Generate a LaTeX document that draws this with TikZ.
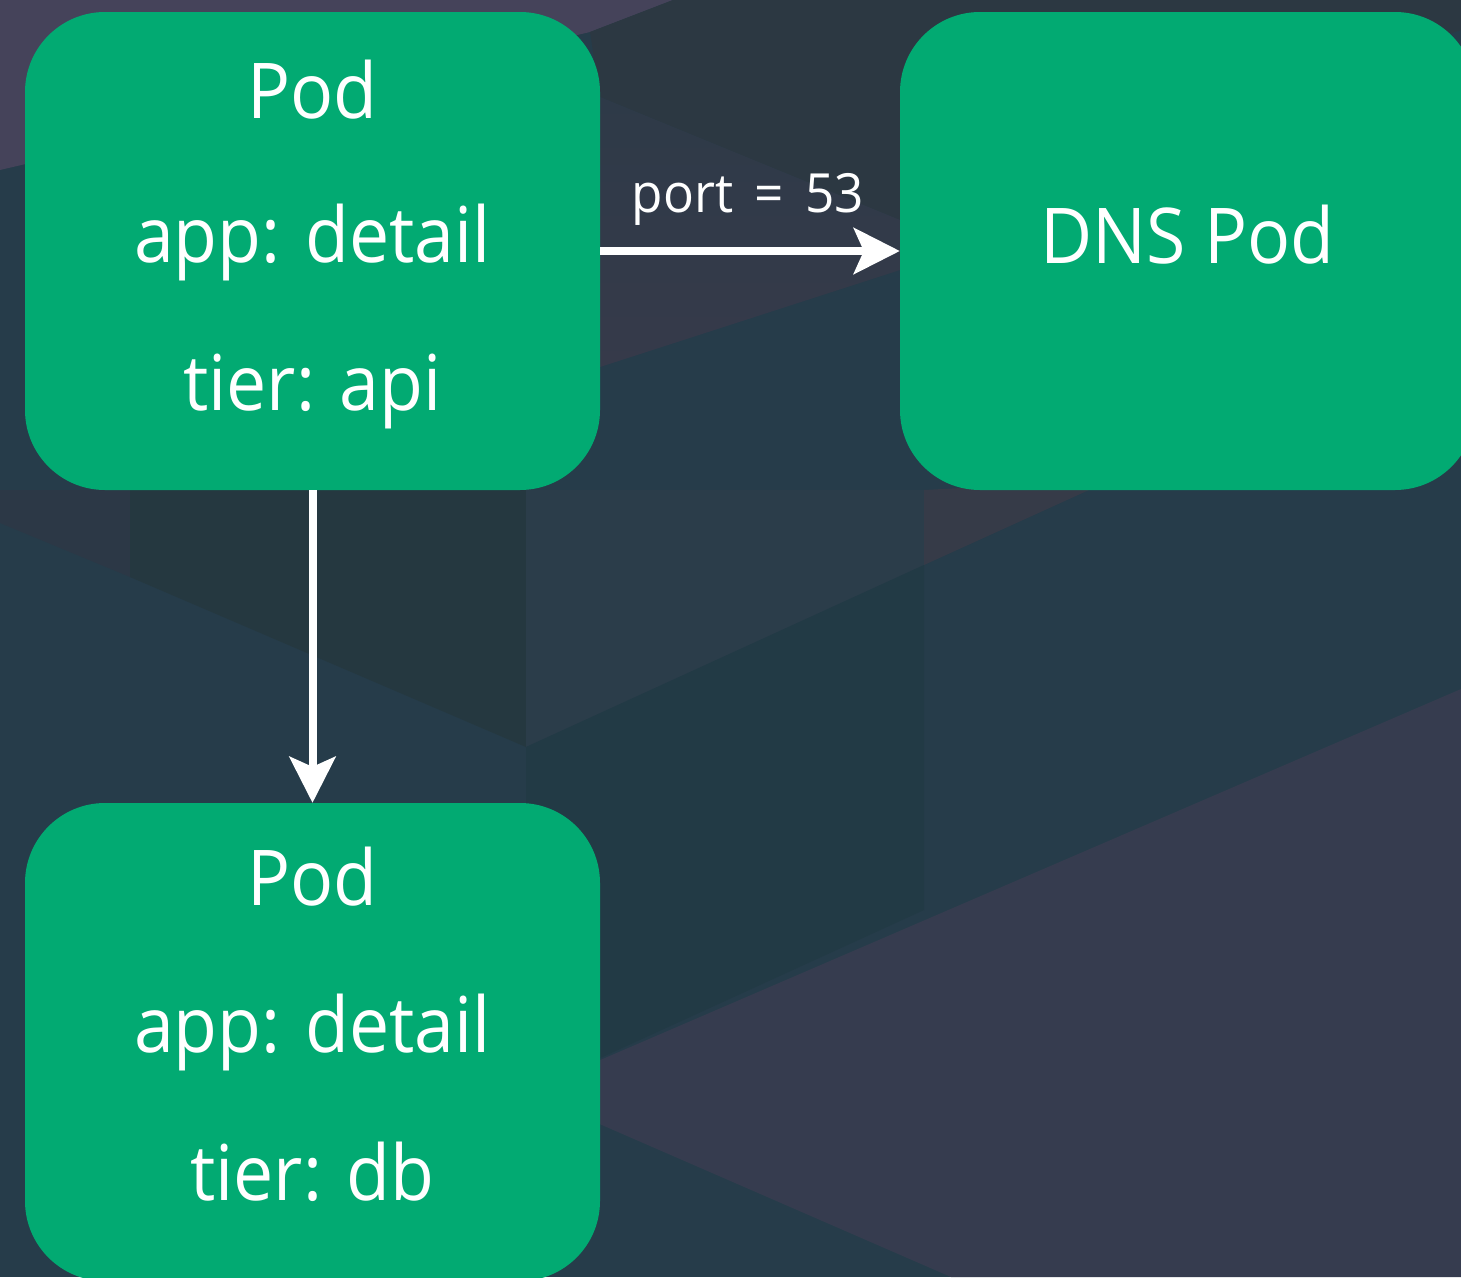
\documentclass[tikz,border=0pt]{standalone}
\usepackage{fontspec}
\setmainfont{Open Sans}[FakeStretch=0.93]
\newfontfamily\portfont{Open Sans}[FakeStretch=0.95, WordSpace=1.6]
\usetikzlibrary{arrows.meta}

\definecolor{bgbase}{HTML}{263C4A}
\definecolor{bgpurple}{HTML}{45435A}
\definecolor{bgdark}{HTML}{2C3842}
\definecolor{bgmidtop}{HTML}{2E3A48}
\definecolor{bgmid}{HTML}{363A4A}
\definecolor{bgshade}{HTML}{253840}
\definecolor{bgleft}{HTML}{2C3846}
\definecolor{bglight}{HTML}{2B3D4A}
\definecolor{bglow}{HTML}{223A45}
\definecolor{bgviolet}{HTML}{363B48}
\definecolor{bgslate}{HTML}{363C4F}
\definecolor{podgreen}{HTML}{02AA72}

\tikzset{
  podbox/.style={fill=podgreen, draw=none, rounded corners=80pt,
    minimum width=575pt, minimum height=478pt, inner sep=0pt},
  bigtext/.style={text=white, anchor=base, font=\fontsize{77}{90}\selectfont},
  smalltext/.style={text=white, anchor=base, font=\portfont\fontsize{54}{64}\selectfont},
  conn/.style={draw=white, line width=8pt,
    -{Stealth[length=46pt, width=46pt, inset=10pt]}}
}

\begin{document}
\begin{tikzpicture}[x=1pt, y=-1pt]
\useasboundingbox (0,0) rectangle (1461,1277);
\clip (0,0) rectangle (1461,1277);

% faceted backdrop
\fill[bgbase] (0,0) rectangle (1461,1277);
\fill[bgpurple] (0,0) -- (673,0) -- (590,32) -- (0,170) -- cycle;
\fill[bgdark] (590,32) -- (673,0) -- (1461,0) -- (1461,30) -- (900,220) -- (600,97) -- cycle;
\shade[top color=bgmidtop, bottom color=bgmid] (600,97) -- (900,220) -- (900,270) -- (600,367) -- cycle;
\fill[bgleft] (0,490) -- (130,490) -- (130,577) -- (0,523) -- cycle;
\fill[bgshade] (130,490) -- (526,490) -- (526,747) -- (130,577) -- cycle;
\fill[bglight] (526,490) -- (924,490) -- (924,565) -- (526,747) -- cycle;
\fill[bglow] (526,747) -- (924,565) -- (924,910) -- (526,1092) -- cycle;
\fill[bgviolet] (924,490) -- (1111,480) -- (924,565) -- cycle;
\fill[bgslate] (526,1092) -- (1461,689) -- (1461,1277) -- (951,1277) -- cycle;

% pods
\node[podbox] (api) at (312.5,251) {};
\node[podbox] (dns) at (1187.5,251) {};
\node[podbox] (db) at (312.5,1042) {};

% labels
\node[bigtext] (apiname) at (312.5,118) {Pod};
\node[bigtext] (apiapp) at (312.5,262) {app: detail};
\node[bigtext] (apitier) at (312.5,410) {tier: api};
\node[bigtext] (dnsname) at (1187.5,263) {DNS Pod};
\node[bigtext] (dbname) at (312.5,905) {Pod};
\node[bigtext] (dbapp) at (312.5,1052) {app: detail};
\node[bigtext] (dbtier) at (312.5,1200) {tier: db};

% connections
\draw[conn] (api.east) -- (dns.west);
\node[smalltext] (portlbl) at (748,212) {port = 53};
\draw[conn] (api.south) -- (db.north);
\end{tikzpicture}
\end{document}
